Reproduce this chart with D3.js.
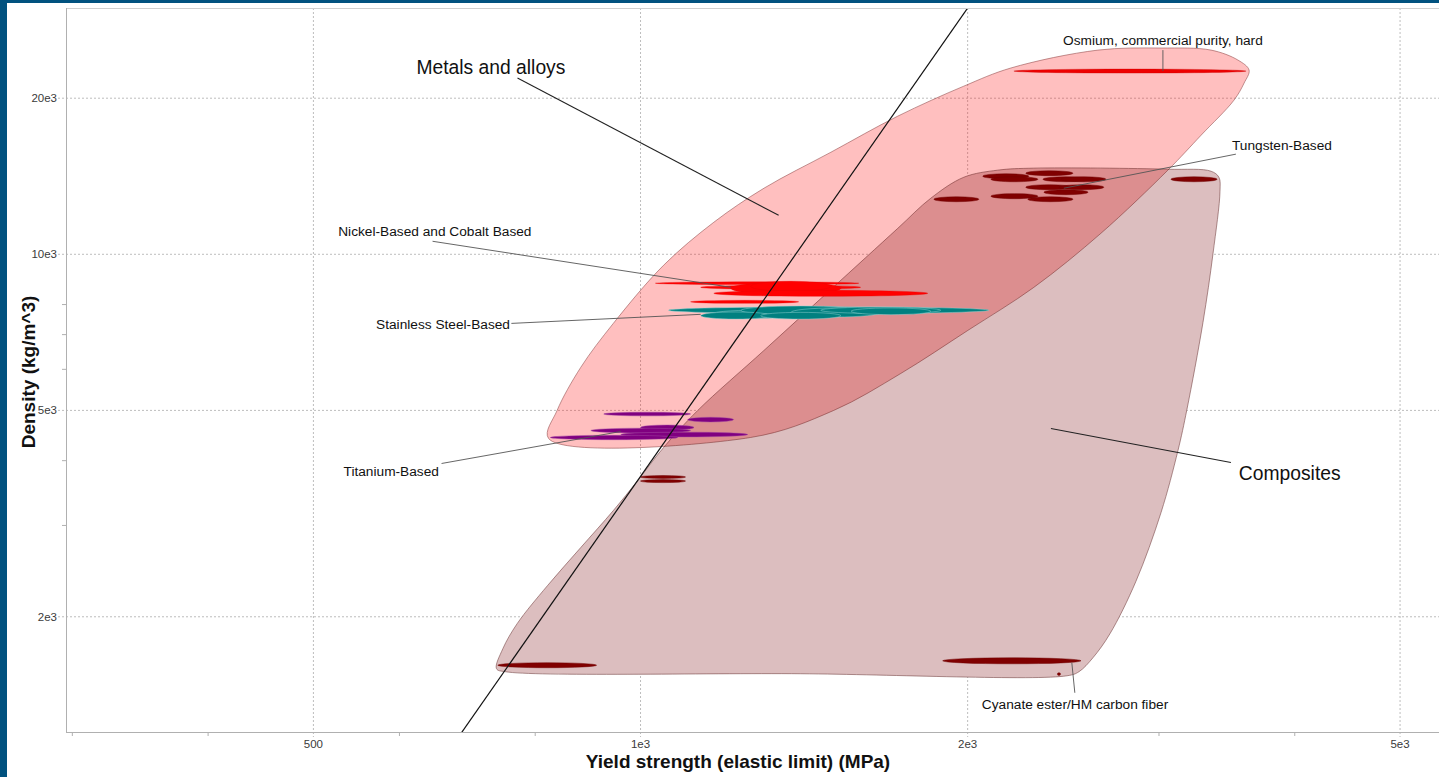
<!DOCTYPE html>
<html>
<head>
<meta charset="utf-8">
<script src="https://cdn.jsdelivr.net/npm/d3@7"></script>
<style>
  html, body { margin: 0; padding: 0; background: #fff; overflow: hidden; }
  svg { display: block; }
</style>
</head>
<body>
<svg id="chart" width="1439" height="777"></svg>
<script>
// ---- Axis ticks ----------------------------------------------------------
const xMajorTicks = [500, 1000, 2000, 5000];
const xMajorLabels = ["500", "1e3", "2e3", "5e3"];
const xMinorTicks = [300, 400, 600, 800, 3000, 4000];
const yMajorTicks = [2000, 5000, 10000, 20000];
const yMajorLabels = ["2e3", "5e3", "10e3", "20e3"];
const yMinorTicks = [3000, 4000, 6000, 7000, 8000];

const xTitle = "Yield strength (elastic limit) (MPa)";
const yTitle = "Density (kg/m^3)";

// ---- Family envelopes: [yield strength (MPa), density (kg/m^3)] ----------
const metalsEnvelope = [
  [823, 4414], [838, 5000], [881, 6052], [944, 7358], [1050, 9523],
  [1168, 11529], [1299, 13410], [1497, 15735], [1725, 18470], [1984, 21100],
  [2192, 22870], [2636, 24760], [3013, 24990], [3350, 24760], [3546, 23690],
  [3631, 22660], [3593, 21390], [3517, 19830], [3280, 16970], [3057, 14530],
  [2653, 10980], [2301, 8634], [2001, 7133], [1736, 5892], [1506, 5000],
  [1263, 4434]
];

const compositesEnvelope = [
  [737, 1588], [747, 1736], [770, 1940], [821, 2296], [881, 2719],
  [944, 3205], [994, 3662], [1050, 4240], [1129, 5000], [1299, 6525],
  [1497, 8559], [1725, 11224], [1850, 12830], [1984, 14080], [2132, 14530],
  [2301, 14660], [3057, 14590], [3350, 14460], [3406, 14080], [3414, 13230],
  [3364, 10040], [3293, 7390], [3183, 5022], [3123, 4183], [3013, 3177],
  [2856, 2337], [2704, 1855], [2608, 1667], [2532, 1567], [2469, 1539],
  [1404, 1553], [751, 1567]
];

// ---- Material records: [σ min, σ max, ρ min, ρ max] -----------------------
const osmium = [
  [2206, 3608, 22360, 22760]
];

const nickelCobalt = [
  [1032, 1588, 8740, 8850],
  [1136, 1594, 8560, 8713],
  [1211, 1529, 8371, 8830],
  [1263, 1497, 8484, 8870],
  [1168, 1838, 8297, 8522],
  [1112, 1398, 8044, 8151]
];

const stainlessSteel = [
  [1061, 2092, 7680, 7920],
  [1160, 1404, 7525, 7802],
  [1237, 1594, 7640, 7950],
  [1375, 1664, 7570, 7880],
  [1465, 1889, 7690, 7910],
  [1136, 1318, 7500, 7740],
  [1290, 1529, 7500, 7727],
  [1562, 1850, 7650, 7880]
];

const titanium = [
  [925, 1112, 4880, 4960],
  [1105, 1218, 4750, 4850],
  [1000, 1120, 4585, 4685],
  [900, 1112, 4525, 4620],
  [959, 1255, 4445, 4540],
  [826, 1082, 4390, 4478]
];

const tungsten = [
  [2065, 2277, 13990, 14300],
  [2101, 2321, 13800, 14110],
  [2262, 2500, 14180, 14490],
  [2346, 2586, 13800, 14110],
  [2437, 2681, 13800, 14110],
  [2262, 2500, 13320, 13620],
  [2427, 2669, 13320, 13620],
  [2351, 2581, 13030, 13320],
  [1862, 2048, 12630, 12910],
  [2101, 2321, 12800, 13090],
  [2272, 2500, 12630, 12910],
  [3077, 3393, 13800, 14110]
];

const compositeGrades = [
  [1000, 1100, 3695, 3745],
  [1000, 1100, 3629, 3678],
  [739, 911, 1595, 1631],
  [1897, 2543, 1623, 1667],
  [2419, 2435, 1541, 1560]
];

// ---- Selection guideline: ρ = C · σ^n ------------------------------------
const guideExponent = 3;
const guideAnchor = [1000, 3730];

// ---- Label texts -----------------------------------------------------------
const labelTexts = [
  "Metals and alloys", "Composites", "Osmium, commercial purity, hard",
  "Tungsten-Based", "Nickel-Based and Cobalt Based", "Stainless Steel-Based",
  "Titanium-Based", "Cyanate ester/HM carbon fiber"
];

// ---- Layout ----------------------------------------------------------------
const W = 1439, H = 777;
const plot = { left: 66, right: 1439, top: 8, bottom: 732 };
const FONT = "'Liberation Sans', Arial, Helvetica, sans-serif";
const TITLE_FONT = "'Liberation Sans Narrow', 'Arial Narrow', 'Liberation Sans', Arial, sans-serif";

const x = d3.scaleLog().domain([296, 5430]).range([plot.left, plot.right]);
const y = d3.scaleLog().domain([1199, 29850]).range([plot.bottom, plot.top]);

const svg = d3.select("#chart");
svg.append("rect").attr("width", W).attr("height", H).attr("fill", "#fff");

// window frame band
svg.append("rect").attr("x", 0).attr("y", 0).attr("width", 7).attr("height", H).attr("fill", "#01527f");
svg.append("rect").attr("x", 0).attr("y", 0).attr("width", W).attr("height", 3).attr("fill", "#01527f");

const defs = svg.append("defs");
defs.append("clipPath").attr("id", "plotClip")
  .append("rect")
  .attr("x", plot.left).attr("y", plot.top)
  .attr("width", plot.right - plot.left).attr("height", plot.bottom - plot.top);

// ---- Grid ------------------------------------------------------------------
const grid = svg.append("g");
grid.selectAll("line.gx").data(xMajorTicks).join("line")
  .attr("x1", d => x(d)).attr("x2", d => x(d))
  .attr("y1", plot.top).attr("y2", plot.bottom + 5)
  .attr("stroke", "#bdbdbd").attr("stroke-width", 1).attr("stroke-dasharray", "2,2");
grid.selectAll("line.gy").data(yMajorTicks).join("line")
  .attr("x1", plot.left - 8).attr("x2", plot.right)
  .attr("y1", d => y(d)).attr("y2", d => y(d))
  .attr("stroke", "#bdbdbd").attr("stroke-width", 1).attr("stroke-dasharray", "2,2");

// ---- Envelopes -------------------------------------------------------------
const plotArea = svg.append("g").attr("clip-path", "url(#plotClip)");
const hull = d3.line()
  .x(d => x(d[0])).y(d => y(d[1]))
  .curve(d3.curveCatmullRomClosed.alpha(0.5));

plotArea.append("path")
  .attr("d", hull(metalsEnvelope))
  .attr("fill", "rgba(255,0,0,0.25)")
  .attr("stroke", "rgba(140,70,70,0.55)")
  .attr("stroke-width", 1);

plotArea.append("path")
  .attr("d", hull(compositesEnvelope))
  .attr("fill", "#dcbebf")
  .style("mix-blend-mode", "multiply")
  .attr("stroke", "rgba(120,70,70,0.6)")
  .attr("stroke-width", 1);

// ---- Material bubbles -----------------------------------------------------
const families = [
  { rows: osmium, fill: "#ee0000", stroke: "rgba(200,0,0,0.6)" },
  { rows: nickelCobalt, fill: "#ff0000", stroke: "rgba(230,0,0,0.6)" },
  { rows: stainlessSteel, fill: "#008080", stroke: "rgba(150,210,210,0.8)" },
  { rows: titanium, fill: "#800080", stroke: "rgba(160,70,160,0.8)" },
  { rows: tungsten, fill: "#800000", stroke: "rgba(110,0,0,0.8)" },
  { rows: compositeGrades, fill: "#800000", stroke: "rgba(110,0,0,0.8)" }
];

const bubbles = plotArea.append("g");
families.forEach(f => {
  bubbles.append("g").selectAll("ellipse").data(f.rows).join("ellipse")
    .attr("cx", d => (x(d[0]) + x(d[1])) / 2)
    .attr("cy", d => (y(d[2]) + y(d[3])) / 2)
    .attr("rx", d => Math.max(1, (x(d[1]) - x(d[0])) / 2))
    .attr("ry", d => Math.max(1, (y(d[2]) - y(d[3])) / 2))
    .attr("fill", f.fill)
    .attr("stroke", f.stroke)
    .attr("stroke-width", 0.6);
});

// ---- Guideline -------------------------------------------------------------
const guideC = guideAnchor[1] / Math.pow(guideAnchor[0], guideExponent);
const guideX = x.domain();
const guidePts = [guideX[0], guideX[1]].map(s => [s, guideC * Math.pow(s, guideExponent)]);
plotArea.append("line")
  .attr("x1", x(guidePts[0][0])).attr("y1", y(guidePts[0][1]))
  .attr("x2", x(guidePts[1][0])).attr("y2", y(guidePts[1][1]))
  .attr("stroke", "#111").attr("stroke-width", 1.2);

// ---- Annotations -----------------------------------------------------------
const annotations = [
  { text: labelTexts[0], at: [622, 22960], anchor: "start", size: 19.3, from: [770.5, 21870], to: [1340, 11890] },
  { text: labelTexts[1], at: [3553, 3778], anchor: "start", size: 19.3, from: [3494, 3968], to: [2386, 4615] },
  { text: labelTexts[2], at: [3025, 25890], anchor: "middle", size: 13.7, from: [3025, 24760], to: [3025, 22560] },
  { text: labelTexts[3], at: [3502, 16235], anchor: "start", size: 13.7, from: [3531, 15600], to: [2452, 13410] },
  { text: labelTexts[4], at: [527, 11077], anchor: "start", size: 13.7, from: [643.6, 10595], to: [1211, 8636] },
  { text: labelTexts[5], at: [571, 7326], anchor: "start", size: 13.7, from: [760.6, 7358], to: [1136, 7660] },
  { text: labelTexts[6], at: [533, 3812], anchor: "start", size: 13.7, from: [656, 3950], to: [959, 4553] },
  { text: labelTexts[7], at: [2061, 1359], anchor: "start", size: 13.7, from: [2510, 1427], to: [2494, 1631] }
];

const ann = svg.append("g");
ann.selectAll("line").data(annotations).join("line")
  .attr("x1", d => x(d.from[0])).attr("y1", d => y(d.from[1]))
  .attr("x2", d => x(d.to[0])).attr("y2", d => y(d.to[1]))
  .attr("stroke", d => d.size > 16 ? "#222" : "#555")
  .attr("stroke-width", d => d.size > 16 ? 1.1 : 0.9);
ann.selectAll("text").data(annotations).join("text")
  .attr("x", d => x(d.at[0])).attr("y", d => y(d.at[1]))
  .attr("dy", "0.35em")
  .attr("text-anchor", d => d.anchor)
  .attr("font-family", FONT)
  .attr("font-size", d => d.size)
  .attr("fill", "#111")
  .text(d => d.text);

// ---- Axes ------------------------------------------------------------------
const axes = svg.append("g");
axes.append("line").attr("x1", plot.left).attr("x2", plot.right)
  .attr("y1", plot.top + 0.5).attr("y2", plot.top + 0.5).attr("stroke", "#d0d0d0");
axes.append("line").attr("x1", plot.left + 0.5).attr("x2", plot.left + 0.5)
  .attr("y1", plot.top).attr("y2", plot.bottom).attr("stroke", "#b0b0b0");
axes.append("line").attr("x1", plot.left).attr("x2", plot.right)
  .attr("y1", plot.bottom + 0.5).attr("y2", plot.bottom + 0.5).attr("stroke", "#b0b0b0");

axes.selectAll("line.mx").data(xMinorTicks).join("line")
  .attr("x1", d => x(d)).attr("x2", d => x(d))
  .attr("y1", plot.bottom).attr("y2", plot.bottom + 4)
  .attr("stroke", "#b0b0b0");
axes.selectAll("line.my").data(yMinorTicks).join("line")
  .attr("x1", plot.left - 4).attr("x2", plot.left)
  .attr("y1", d => y(d)).attr("y2", d => y(d))
  .attr("stroke", "#b0b0b0");

axes.selectAll("text.xt").data(xMajorTicks).join("text")
  .attr("x", d => x(d)).attr("y", plot.bottom + 16)
  .attr("text-anchor", "middle")
  .attr("font-family", FONT).attr("font-size", 11.5).attr("fill", "#3a3a3a")
  .text((d, i) => xMajorLabels[i]);
axes.selectAll("text.yt").data(yMajorTicks).join("text")
  .attr("x", plot.left - 9).attr("y", d => y(d)).attr("dy", "0.35em")
  .attr("text-anchor", "end")
  .attr("font-family", FONT).attr("font-size", 11.5).attr("fill", "#3a3a3a")
  .text((d, i) => yMajorLabels[i]);

svg.append("text")
  .attr("x", 738).attr("y", 768)
  .attr("text-anchor", "middle")
  .attr("font-family", TITLE_FONT).attr("font-weight", "bold")
  .attr("font-size", 19).attr("fill", "#111")
  .text(xTitle);
svg.append("text")
  .attr("transform", "translate(35,372) rotate(-90)")
  .attr("text-anchor", "middle")
  .attr("font-family", TITLE_FONT).attr("font-weight", "bold")
  .attr("font-size", 19).attr("fill", "#111")
  .text(yTitle);
</script>
</body>
</html>
